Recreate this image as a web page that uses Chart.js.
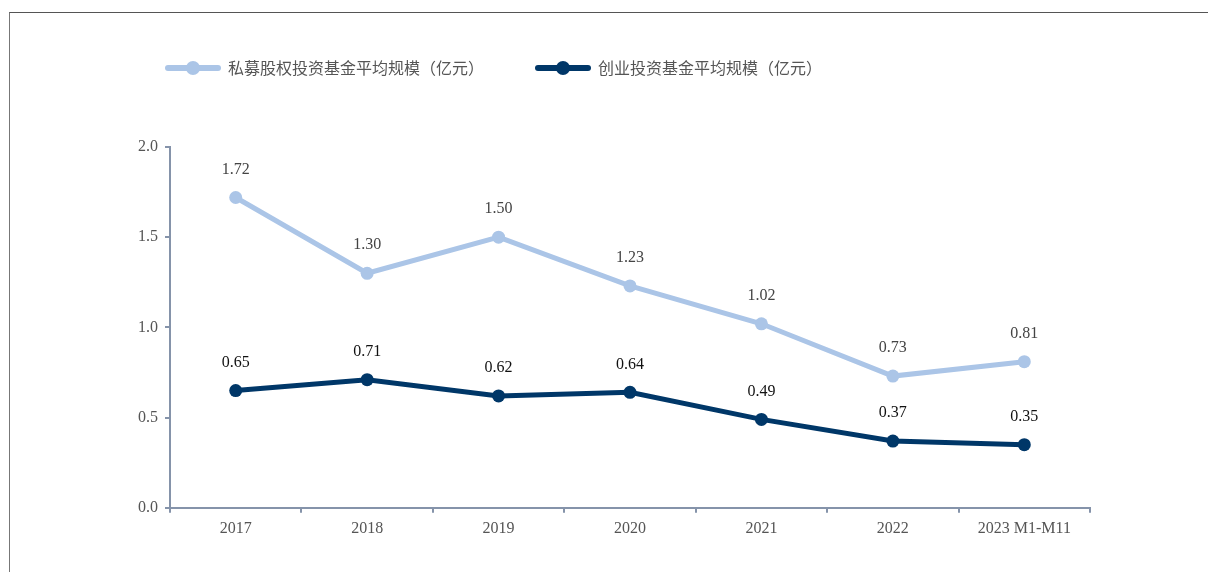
<!DOCTYPE html>
<html>
<head>
<meta charset="utf-8">
<script src="https://cdn.jsdelivr.net/npm/chart.js@4/dist/chart.umd.min.js"></script>
<style>
  html, body { margin: 0; padding: 0; background: #fff; overflow: hidden; }
  #frame { position: absolute; left: 9px; top: 12px; width: 1300px; height: 700px;
           border-top: 1px solid #555; border-left: 1px solid #777; }
  #wrap { position: absolute; left: 0; top: 0; width: 1208px; height: 572px; }
</style>
</head>
<body>
<div id="frame"></div>
<div id="wrap"><canvas id="chart1"></canvas></div>
<script>
const categories = ["2017", "2018", "2019", "2020", "2021", "2022", "2023 M1-M11"];
const peAvgScale = [1.72, 1.30, 1.50, 1.23, 1.02, 0.73, 0.81];
const vcAvgScale = [0.65, 0.71, 0.62, 0.64, 0.49, 0.37, 0.35];
const seriesNames = ["私募股权投资基金平均规模（亿元）", "创业投资基金平均规模（亿元）"];
const yTicks = [0.0, 0.5, 1.0, 1.5, 2.0];

const LIGHT = "#abc5e7";
const DARK = "#003768";
const AXIS = "#8593aa";
const SERIF = "'Liberation Serif', 'DejaVu Serif', serif";
const CJK = "'Noto Sans CJK SC', sans-serif";

// value labels above each point
const valueLabels = {
  id: "valueLabels",
  afterDatasetsDraw(chart) {
    const ctx = chart.ctx;
    ctx.save();
    ctx.font = "16px " + SERIF;
    ctx.textAlign = "center";
    ctx.textBaseline = "middle";
    chart.data.datasets.forEach((ds, i) => {
      const meta = chart.getDatasetMeta(i);
      ctx.fillStyle = i == 0 ? "#444" : "#111";
      meta.data.forEach((pt, j) => {
        ctx.fillText(ds.data[j].toFixed(2), pt.x, pt.y - 28);
      });
    });
    ctx.restore();
  }
};

// legend: line with dot, then text
const lineLegend = {
  id: "lineLegend",
  afterDraw(chart) {
    const ctx = chart.ctx;
    ctx.save();
    ctx.font = "16px " + CJK;
    ctx.textBaseline = "middle";
    let x = 168;
    const y = 68;
    chart.data.datasets.forEach((ds) => {
      ctx.strokeStyle = ds.borderColor;
      ctx.lineWidth = 6;
      ctx.lineCap = "round";
      ctx.beginPath();
      ctx.moveTo(x, y);
      ctx.lineTo(x + 50, y);
      ctx.stroke();
      ctx.fillStyle = ds.borderColor;
      ctx.beginPath();
      ctx.arc(x + 25, y, 7, 0, Math.PI * 2);
      ctx.fill();
      ctx.fillStyle = "#555";
      ctx.fillText(ds.label, x + 60, y);
      x += 60 + ctx.measureText(ds.label).width + 54;
    });
    ctx.restore();
  }
};

const ctx = document.getElementById("chart1").getContext("2d");
const myChart = new Chart(ctx, {
  type: "line",
  data: {
    labels: categories,
    datasets: [
      {
        label: seriesNames[0],
        data: peAvgScale,
        borderColor: LIGHT,
        backgroundColor: LIGHT,
        borderWidth: 5,
        pointRadius: 6.5,
        pointBorderWidth: 0,
        tension: 0
      },
      {
        label: seriesNames[1],
        data: vcAvgScale,
        borderColor: DARK,
        backgroundColor: DARK,
        borderWidth: 5,
        pointRadius: 6.5,
        pointBorderWidth: 0,
        tension: 0
      }
    ]
  },
  options: {
    responsive: true,
    maintainAspectRatio: false,
    animation: false,
    layout: { padding: { top: 147, right: 118, bottom: 28, left: 138 } },
    plugins: {
      legend: { display: false },
      tooltip: { enabled: false }
    },
    scales: {
      x: {
        offset: true,
        grid: { display: true, drawOnChartArea: false, drawTicks: true, tickLength: 5, color: AXIS, lineWidth: 2, offset: true },
        border: { color: AXIS, width: 2 },
        ticks: { color: "#555", font: { family: SERIF, size: 16 }, padding: 6, maxRotation: 0 }
      },
      y: {
        min: 0,
        max: 2,
        afterBuildTicks(scale) { scale.ticks = yTicks.map(v => ({ value: v })); },
        afterFit(scale) { scale.width = 32; },
        grid: { display: true, drawOnChartArea: false, drawTicks: true, tickLength: 5, color: AXIS, lineWidth: 2 },
        border: { color: AXIS, width: 2 },
        ticks: { color: "#555", font: { family: SERIF, size: 16 }, padding: 7,
                 callback: v => Number(v).toFixed(1) }
      }
    }
  },
  plugins: [valueLabels, lineLegend]
});
</script>
</body>
</html>
